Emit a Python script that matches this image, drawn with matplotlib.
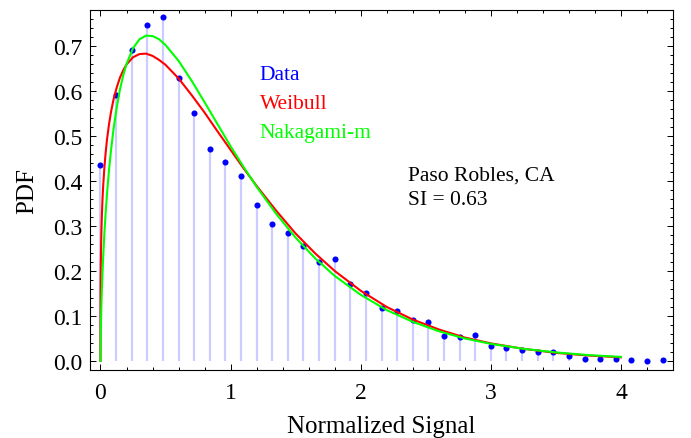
import numpy as np
import matplotlib
matplotlib.use("Agg")
import matplotlib.pyplot as plt

# histogram of normalized signal (bin centres and heights)
x_data = [0.0, 0.12, 0.24, 0.36, 0.48, 0.60, 0.72, 0.84, 0.96, 1.08, 1.20, 1.32,
          1.44, 1.56, 1.68, 1.80, 1.92, 2.04, 2.16, 2.28, 2.40, 2.52, 2.64, 2.76,
          2.88, 3.00, 3.12, 3.24, 3.36, 3.48, 3.60, 3.72, 3.84, 3.96, 4.08, 4.20, 4.32]
pdf_data = [0.436, 0.592, 0.690, 0.746, 0.765, 0.628, 0.550, 0.472, 0.442, 0.410,
            0.347, 0.305, 0.285, 0.256, 0.221, 0.227, 0.171, 0.152, 0.118, 0.110,
            0.090, 0.087, 0.056, 0.054, 0.057, 0.034, 0.028, 0.024, 0.021, 0.021,
            0.011, 0.004, 0.004, 0.004, 0.002, 0.000, 0.002]

# fitted curves
x_fit = [0, 0.0005, 0.001, 0.002, 0.004, 0.007, 0.01, 0.015, 0.02, 0.03, 0.04, 0.05,
         0.065, 0.08, 0.1, 0.125, 0.15, 0.175, 0.2, 0.25, 0.3, 0.35, 0.4, 0.45, 0.5,
         0.6, 0.7, 0.8, 0.9, 1.0, 1.1, 1.2, 1.35, 1.5, 1.65, 1.8, 2.0, 2.2, 2.4, 2.6,
         2.8, 3.0, 3.25, 3.5, 3.75, 4.0]
weibull = [0.000, 0.138, 0.168, 0.204, 0.247, 0.289, 0.319, 0.356, 0.386, 0.430,
           0.464, 0.492, 0.525, 0.552, 0.581, 0.608, 0.630, 0.646, 0.659, 0.675,
           0.682, 0.683, 0.678, 0.669, 0.658, 0.628, 0.591, 0.552, 0.510, 0.469,
           0.428, 0.389, 0.334, 0.283, 0.239, 0.200, 0.156, 0.120, 0.092, 0.070,
           0.052, 0.039, 0.027, 0.018, 0.012, 0.008]
nakagami = [0.000, 0.027, 0.040, 0.061, 0.091, 0.125, 0.154, 0.193, 0.227, 0.284,
            0.331, 0.371, 0.423, 0.466, 0.515, 0.564, 0.604, 0.635, 0.660, 0.695,
            0.715, 0.723, 0.722, 0.715, 0.702, 0.667, 0.623, 0.575, 0.526, 0.477,
            0.431, 0.387, 0.327, 0.274, 0.228, 0.189, 0.147, 0.113, 0.087, 0.066,
            0.050, 0.038, 0.027, 0.019, 0.013, 0.009]

plt.rcParams['font.family'] = 'Liberation Serif'

fig = plt.figure(figsize=(6.91, 4.39), dpi=100)
ax = fig.add_axes([0.1298, 0.155, 0.974 - 0.1298, 0.975 - 0.155])

ax.vlines(x_data, 0, pdf_data, color='#ccccff', lw=1.6, zorder=1)
ax.plot(x_data, pdf_data, 'o', color='#0000ff', ms=4.4, mec='none', zorder=2)
ax.plot(x_fit, weibull, color='#ff0000', lw=1.5, zorder=3)
ax.plot(x_fit, nakagami, color='#00ff00', lw=1.5, zorder=4)

ax.set_xlim(-0.083, 4.40)
ax.set_ylim(-0.02, 0.78)
ax.set_xticks([0, 1, 2, 3, 4])
ax.set_xticks(np.arange(0, 4.41, 0.2), minor=True)
ax.set_yticks(np.arange(0, 0.71, 0.1))
ax.set_yticks(np.arange(0, 0.781, 0.02), minor=True)
ax.set_yticklabels(['0.0', '0.1', '0.2', '0.3', '0.4', '0.5', '0.6', '0.7'])
ax.tick_params(which='both', direction='in', top=True, right=True, width=0.7,
               labelsize=17)
ax.tick_params(which='major', length=4.5)
ax.tick_params(which='minor', length=2.3)
ax.tick_params(axis='x', pad=9)
ax.tick_params(axis='y', pad=5)
for s in ax.spines.values():
    s.set_linewidth(0.8)

ax.set_xlabel('Normalized Signal', fontsize=18, labelpad=8)
ax.set_ylabel('PDF', fontsize=18, labelpad=11)

ax.text(1.222, 0.627, 'Data', color='#0000ff', fontsize=15.5, va='baseline')
ax.text(1.222, 0.562, 'Weibull', color='#ff0000', fontsize=15.5, va='baseline')
ax.text(1.222, 0.497, 'Nakagami-m', color='#00ff00', fontsize=15.5, va='baseline')
ax.text(2.365, 0.404, 'Paso Robles, CA', color='black', fontsize=15.5, va='baseline')
ax.text(2.365, 0.349, 'SI = 0.63', color='black', fontsize=15.5, va='baseline')

fig.savefig('out.png', dpi=100)
